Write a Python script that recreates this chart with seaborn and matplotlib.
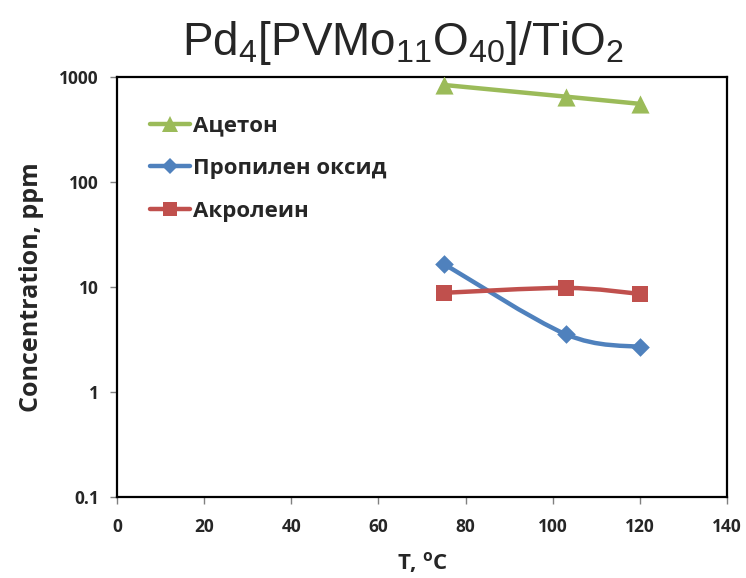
import numpy as np
import pandas as pd
import matplotlib
matplotlib.use("Agg")
import matplotlib.pyplot as plt
import seaborn as sns
from matplotlib import font_manager
from matplotlib.path import Path
from matplotlib.patches import PathPatch
from matplotlib.lines import Line2D

# ---- data ----
temps = [75, 103, 120]
acetone = [840, 650, 555]
propylene_oxide = [16.6, 3.55, 2.68]
acrolein = [8.8, 9.8, 8.6]
series_names = ["Ацетон", "Пропилен оксид", "Акролеин"]
x_ticks = [0, 20, 40, 60, 80, 100, 120, 140]
y_ticks = [0.1, 1, 10, 100, 1000]
y_tick_labels = ["0.1", "1", "10", "100", "1000"]

colors = {"Ацетон": "#9BBB59", "Пропилен оксид": "#4F81BD", "Акролеин": "#C0504D"}
markers = {"Ацетон": "^", "Пропилен оксид": "D", "Акролеин": "s"}
msizes = {"Ацетон": 170, "Пропилен оксид": 90, "Акролеин": 140}

df = pd.concat([
    pd.DataFrame({"T": temps, "C": vals, "series": name})
    for name, vals in zip(series_names, [acetone, propylene_oxide, acrolein])
], ignore_index=True)

installed = {f.name for f in font_manager.fontManager.ttflist}
narrow = "Liberation Sans Narrow" in installed
title_font = "Liberation Sans Narrow" if narrow else "Liberation Sans"
title_size = 37 if narrow else 33

sns.set_theme(style="white")
plt.rcParams["font.family"] = ["Open Sans", "DejaVu Sans"]
plt.rcParams["mathtext.fontset"] = "custom"
plt.rcParams["mathtext.rm"] = title_font
plt.rcParams["mathtext.bf"] = "Open Sans:bold"

fig = plt.figure(figsize=(7.46, 5.78), dpi=100)
ax = fig.add_axes([0.1568, 0.1401, 0.8177, 0.7267])
ax.set_yscale("log")
ax.set_xlim(0, 140)
ax.set_ylim(0.1, 1000)


def smooth_path(xs, ys):
    # Excel-like smoothed line: cubic Bezier with Catmull-Rom control points (in x, log y)
    lx = np.array(xs, float)
    ly = np.log10(np.array(ys, float))
    n = len(lx)
    verts = [(lx[0], ly[0])]
    codes = [Path.MOVETO]
    for i in range(n - 1):
        p0 = np.array([lx[max(i - 1, 0)], ly[max(i - 1, 0)]])
        p1 = np.array([lx[i], ly[i]])
        p2 = np.array([lx[i + 1], ly[i + 1]])
        p3 = np.array([lx[min(i + 2, n - 1)], ly[min(i + 2, n - 1)]])
        c1 = p1 + (p2 - p0) / 6.0
        c2 = p2 - (p3 - p1) / 6.0
        verts += [tuple(c1), tuple(c2), tuple(p2)]
        codes += [Path.CURVE4] * 3
    verts = [(vx, 10 ** vy) for vx, vy in verts]
    return Path(verts, codes)


for name, vals in zip(series_names, [acetone, propylene_oxide, acrolein]):
    ax.add_patch(PathPatch(smooth_path(temps, vals), transform=ax.transData,
                           fill=False, edgecolor=colors[name], lw=3.2, zorder=2,
                           capstyle="round", joinstyle="round"))

for name in series_names:
    sub = df[df["series"] == name]
    sns.scatterplot(data=sub, x="T", y="C", ax=ax, marker=markers[name],
                    s=msizes[name], color=colors[name], edgecolor=colors[name],
                    linewidth=0, zorder=3, legend=False)

ax.set_xticks(x_ticks)
ax.set_xticklabels([str(t) for t in x_ticks], fontweight="bold", fontsize=12.5)
ax.set_yticks(y_ticks)
ax.set_yticklabels(y_tick_labels, fontweight="bold", fontsize=12.5)
ax.minorticks_off()
ax.tick_params(axis="both", which="major", direction="out", length=5, width=1,
               color="#808080", left=True, bottom=True, pad=8)
ax.tick_params(axis="x", pad=10)

for sp in ax.spines.values():
    sp.set_color("black")
    sp.set_linewidth(1.6)
ax.grid(False)

ax.set_xlabel(r"T, $^\mathbf{o}$C", fontweight="bold", fontsize=16, labelpad=10)
ax.set_ylabel("Concentration, ppm", fontweight="bold", fontsize=18, labelpad=11)

fig.text(0.54, 0.905, r"Pd$_4$[PVMo$_{11}$O$_{40}$]/TiO$_2$", ha="center", va="baseline",
         fontsize=title_size, family=title_font)

handles = [Line2D([0], [0], color=colors[n], lw=3.2, marker=markers[n],
                  markersize={"Ацетон": 11, "Пропилен оксид": 8, "Акролеин": 10}[n],
                  markeredgewidth=0)
           for n in series_names]
leg = ax.legend(handles, series_names, loc="upper left", bbox_to_anchor=(0.039, 0.93),
                frameon=False, prop={"weight": "bold", "size": 16},
                handlelength=1.8, handletextpad=0.15, labelspacing=0.98, borderaxespad=0)

fig.savefig("out.png", dpi=100)
